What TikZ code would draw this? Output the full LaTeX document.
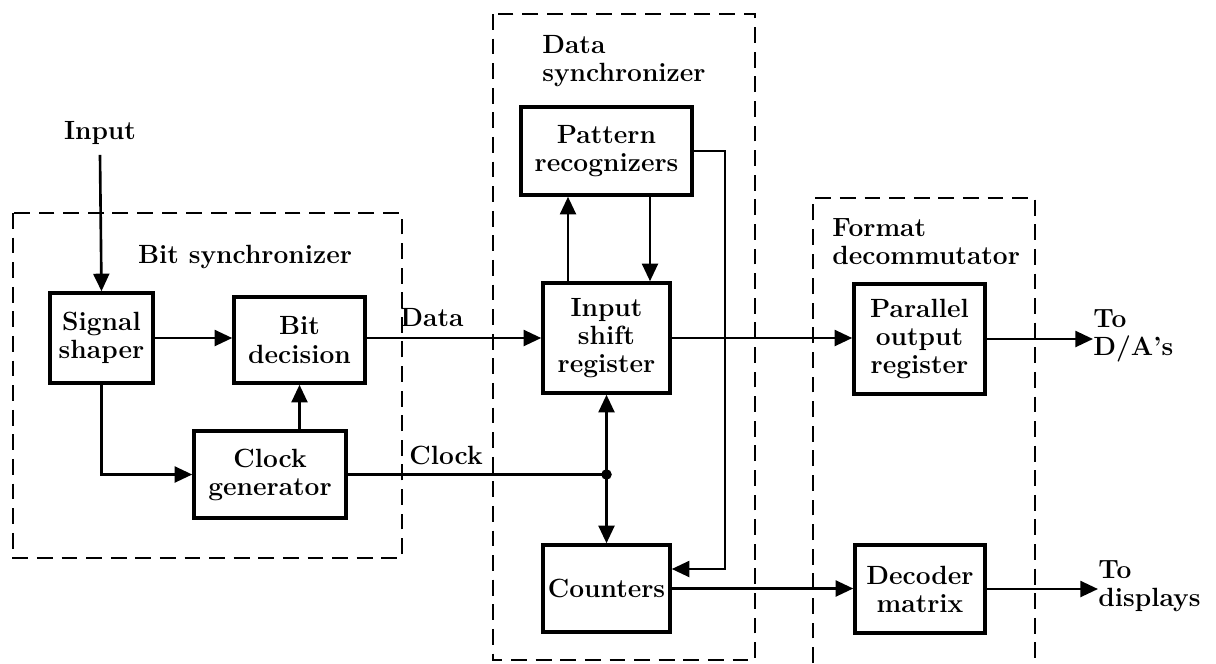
\documentclass[tikz,border=0pt]{standalone}
\usetikzlibrary{arrows.meta, positioning}

\begin{document}
\begin{tikzpicture}[
  x=0.02cm, y=-0.02cm,
  blk/.style={draw, line width=2pt, align=center, inner sep=2pt},
  grp/.style={draw, dash pattern=on 9pt off 5pt, line width=1.6pt},
  lbl/.style={align=left, inner sep=0pt},
  arr/.style={-{Triangle[length=10pt,width=9pt]}, line width=1.5pt},
  wire/.style={line width=1.5pt},
  font=\fontsize{15}{16}\selectfont\bfseries
]
  \useasboundingbox (0,0) rectangle (1216,663);

  % group frames
  \draw[grp] (13,213) rectangle (402,558);
  \draw[grp] (493,14) rectangle (755,660);
  \draw[grp] (813,663) -- (813,198) -- (1035,198) -- (1035,663);
  \node[lbl] (bitlbl) at (245,257) {Bit synchronizer};
  \node[lbl, anchor=west] (datalbl) at (542,61) {Data\\synchronizer};
  \node[lbl, anchor=west] (fmtlbl) at (832,242) {Format\\decommutator};

  % blocks
  \node[blk, minimum width=2.06cm, minimum height=1.8cm] (shaper) at (101.5,338) {Signal\\shaper};
  \node[blk, minimum width=2.62cm, minimum height=1.72cm] (bitdec) at (299.5,340) {Bit\\decision};
  \node[blk, minimum width=3.04cm, minimum height=1.74cm] (clkgen) at (270,474.5) {Clock\\generator};
  \node[blk, minimum width=3.42cm, minimum height=1.76cm] (pattern) at (606.5,151) {Pattern\\recognizers};
  \node[blk, minimum width=2.54cm, minimum height=2.2cm] (isr) at (606.5,338) {Input\\shift\\register};
  \node[blk, minimum width=2.54cm, minimum height=1.74cm] (counters) at (606.5,588.5) {Counters};
  \node[blk, minimum width=2.62cm, minimum height=2.2cm] (parallel) at (919.5,339) {Parallel\\output\\register};
  \node[blk, minimum width=2.6cm, minimum height=1.76cm] (decoder) at (920,589) {Decoder\\matrix};

  % free labels
  \node[lbl] (input) at (100,133) {Input};
  \node[lbl] (datatxt) at (432,318) {Data};
  \node[lbl] (clocktxt) at (446,455) {Clock};
  \node[lbl, anchor=west] (toda) at (1093,336) {To\\D/A's};
  \node[lbl, anchor=west] (todisp) at (1098,586) {To\\displays};

  \coordinate (pl) at (568,0);
  \coordinate (pr) at (650,0);
  \coordinate (fb) at (725,569);
  \coordinate (jn) at (isr.south |- clkgen.east);

  % bit synchronizer
  \draw[arr] ([yshift=-0.2cm]input.south) -- (shaper.north);
  \draw[arr] (shaper.east) -- (shaper.east -| bitdec.west);
  \draw[arr] (shaper.south) |- (clkgen.west);
  \draw[arr] (clkgen.north -| bitdec.south) -- (bitdec.south);

  % data synchronizer
  \draw[arr] (bitdec.east |- isr.west) -- (isr.west);
  \draw[wire] (clkgen.east) -- (jn);
  \fill (jn) circle (3pt);
  \draw[arr] (jn) -- (isr.south);
  \draw[arr] (jn) -- (counters.north);
  \draw[arr] (isr.north -| pl) -- (pattern.south -| pl);
  \draw[arr] (pattern.south -| pr) -- (isr.north -| pr);
  \draw[arr] (pattern.east) -| (fb) -- (counters.east |- fb);

  % format decommutator
  \draw[arr] (isr.east) -- (parallel.west |- isr.east);
  \draw[arr] (counters.east) -- (decoder.west |- counters.east);
  \draw[arr] (parallel.east) -- (parallel.east -| toda.west);
  \draw[arr] (decoder.east) -- (decoder.east -| todisp.west);
\end{tikzpicture}
\end{document}
